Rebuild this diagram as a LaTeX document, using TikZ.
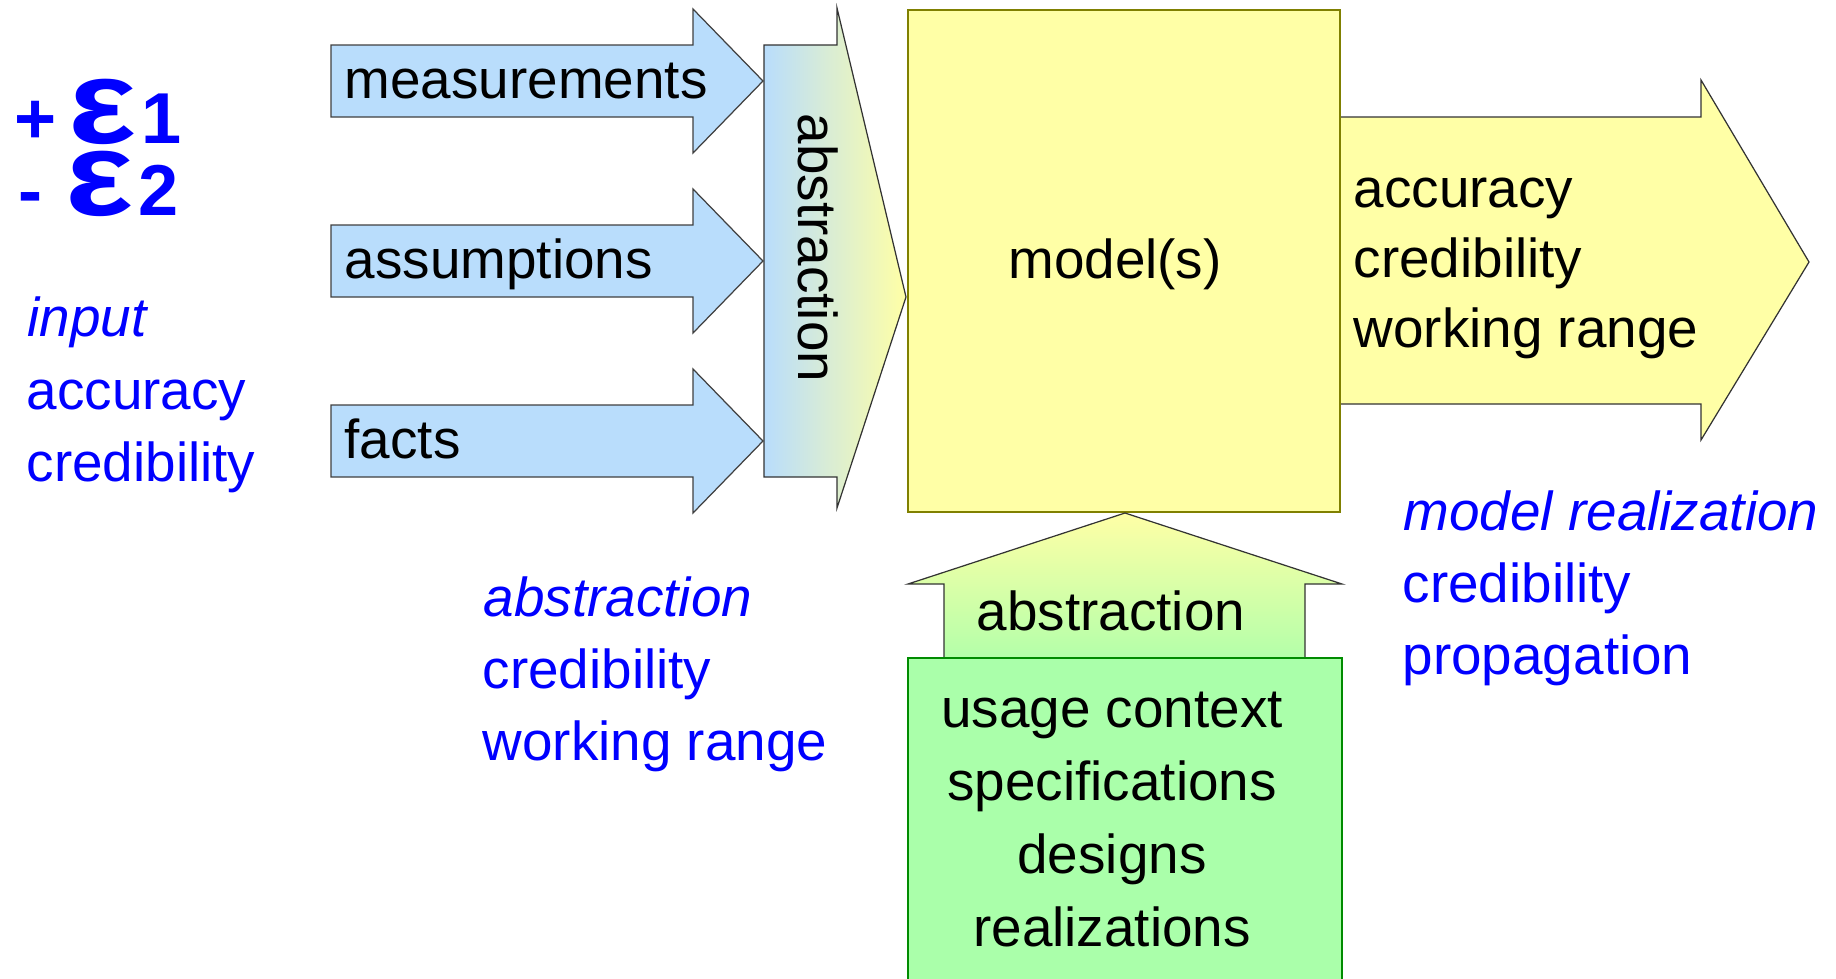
\documentclass[tikz,border=0pt]{standalone}
\usepackage{fontspec}
\setmainfont{Liberation Sans}
\usepackage{xcolor}
\usetikzlibrary{positioning}

\definecolor{arrowblue}{RGB}{185,221,252}
\definecolor{modelyellow}{RGB}{255,255,166}
\definecolor{usegreen}{RGB}{170,255,170}
\definecolor{boxolive}{RGB}{128,128,0}
\definecolor{boxgreen}{RGB}{0,140,0}
\definecolor{noteblue}{RGB}{0,0,255}

\tikzset{
  txt/.style={inner sep=0pt, font=\fontsize{15.6pt}{20.8pt}\selectfont},
  note/.style={txt, text=noteblue, anchor=base west},
  epsfont/.style={inner sep=0pt, text=noteblue, anchor=base west, font=\fontsize{20.5pt}{24pt}\selectfont\bfseries},
  epsbig/.style={epsfont, font=\fontsize{34pt}{36pt}\selectfont\bfseries},
  bluearrow/.style={fill=arrowblue, draw=black!75, line width=0.35pt},
  yellowarrow/.style={fill=modelyellow, draw=black!80, line width=0.35pt},
  modelbox/.style={fill=modelyellow, draw=boxolive, line width=0.7pt},
  greenbox/.style={fill=usegreen, draw=boxgreen, line width=0.6pt}
}

\begin{document}
\begin{tikzpicture}[x=0.01cm, y=-0.01cm]
\useasboundingbox (0,0) rectangle (1836,978);

% error terms
\node[epsfont] (plusA) at (14,143) {+};
\node[epsbig] (epsA) at (68,143) {\scalebox{1.2}[1]{ε}};
\node[epsfont, xshift=1pt] (oneA) at (epsA.base east) {1};
\node[epsfont] (minusB) at (18,215) {-};
\node[epsbig] (epsB) at (65,215) {\scalebox{1.2}[1]{ε}};
\node[epsfont, xshift=1pt] (twoB) at (epsB.base east) {2};

% input notes
\node[note, font=\fontsize{15.6pt}{20.8pt}\selectfont\itshape] (inputT) at (27,336) {input};
\node[note] (inputA) at (26,409) {accuracy};
\node[note] (inputC) at (26,481) {credibility};

% three inputs
\foreach \y/\name/\label in {81/meas/measurements, 261/assum/assumptions, 441/fact/facts}{
  \draw[bluearrow] (331,\y-36) -- (693,\y-36) -- (693,\y-72) -- (763,\y) -- (693,\y+72) -- (693,\y+36) -- (331,\y+36) -- cycle;
  \node[txt, anchor=base west] (\name) at (344,\y+17) {\label};
}

% abstraction into the model
\shadedraw[left color=arrowblue, right color=modelyellow, draw=black!80, line width=0.35pt]
  (764,45) -- (837,45) -- (837,8) -- (906,297) -- (837,508) -- (837,477) -- (764,477) -- cycle;
\node[txt, rotate=-90] (absV) at (818,248) {abstraction};

\node[note, font=\fontsize{15.6pt}{20.8pt}\selectfont\itshape] (absT) at (483,616) {abstraction};
\node[note] (absC) at (482,688) {credibility};
\node[note] (absW) at (482,760) {working range};

% output
\draw[yellowarrow] (1340,117) -- (1701,117) -- (1701,80) -- (1809,262) -- (1701,440) -- (1701,404) -- (1340,404) -- cycle;
\foreach \y/\name/\label in {207/outA/accuracy, 277/outC/credibility, 347/outW/working range}
  \node[txt, anchor=base west] (\name) at (1353,\y) {\label};

% model
\draw[modelbox] (908,10) rectangle (1340,512);
\node[txt, anchor=base] (model) at (1115,278) {model(s)};

% realization notes
\node[note, font=\fontsize{15.6pt}{20.8pt}\selectfont\itshape] (realT) at (1403,530) {model realization};
\node[note] (realC) at (1402,602) {credibility};
\node[note] (realP) at (1402,674) {propagation};

% abstraction from usage context
\shadedraw[top color=modelyellow, bottom color=usegreen!90!modelyellow, draw=black!80, line width=0.35pt]
  (944,660) -- (944,584) -- (908,584) -- (1125,513) -- (1342,584) -- (1305,584) -- (1305,660) -- cycle;
\node[txt, anchor=base] (absU) at (1111,630) {abstraction};

\draw[greenbox] (908,658) rectangle (1342,995);
\foreach \y/\name/\label in {727/useA/usage context, 800/useB/specifications, 873/useC/designs, 946/useD/realizations}
  \node[txt, anchor=base] (\name) at (1112,\y) {\label};
\end{tikzpicture}
\end{document}
